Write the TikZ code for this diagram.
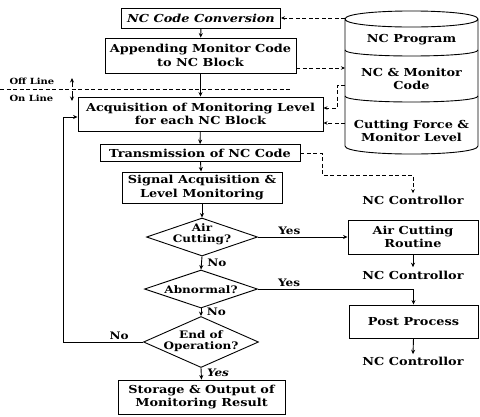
\documentclass[tikz,border=0pt]{standalone}
\usepackage{fontspec}
\setmainfont[FakeStretch=1.17]{DejaVu Serif}
\usetikzlibrary{arrows.meta,shapes.geometric,calc}
\begin{document}
\begin{tikzpicture}[x=1pt,y=-1pt,
  txt/.style={font=\bfseries\fontsize{11}{13.5}\selectfont,align=center},
  small/.style={font=\bfseries\fontsize{10.3}{11}\selectfont,align=center},
  tiny/.style={font=\bfseries\fontsize{8.5}{10}\selectfont},
  box/.style={draw,line width=0.9pt,txt,inner sep=0pt},
  dia/.style={draw,line width=0.9pt,diamond,inner sep=0pt},
  arr/.style={line width=0.9pt,-{Stealth[length=4.5pt,width=4pt]}},
  dsh/.style={line width=0.8pt,dash pattern=on 4pt off 2.5pt,-{Stealth[length=4pt,width=3.5pt]}},
  dshn/.style={line width=0.8pt,dash pattern=on 4pt off 2.5pt}]
\useasboundingbox (0,0) rectangle (480,416);

% main boxes
\node[box,minimum width=159,minimum height=20] (conv) at (201,18) {\itshape NC Code Conversion};
\node[box,minimum width=191,minimum height=35] (app) at (200.5,55.5) {Appending Monitor Code\\to NC Block};
\node[box,minimum width=245,minimum height=34] (acq) at (200.5,114) {Acquisition of Monitoring Level\\for each NC Block};
\node[box,minimum width=200,minimum height=17] (trans) at (200,153) {Transmission of NC Code};
\node[box,minimum width=160,minimum height=31] (sig) at (202,187.5) {Signal Acquisition \&\\Level Monitoring};
\node[dia,minimum width=111,minimum height=38] (d1) at (202,237) {};
\node[small] (d1t) at (202,234) {Air\\Cutting?};
\node[dia,minimum width=113,minimum height=38] (d2) at (201,289) {};
\node[small] (d2t) at (201,290) {Abnormal?};
\node[dia,minimum width=115,minimum height=51] (d3) at (201,342) {};
\node[small] (d3t) at (201,341) {End of\\Operation?};
\node[box,minimum width=167,minimum height=34] (stor) at (201.5,397) {Storage \& Output of\\Monitoring Result};
\node[box,minimum width=130,minimum height=34] (air) at (413,237) {Air Cutting\\Routine};
\node[box,minimum width=129,minimum height=33] (post) at (413.5,321.5) {Post Process};
\node[txt] (nc1) at (413,200) {NC Controllor};
\node[txt] (nc2) at (413,275) {NC Controllor};
\node[txt] (nc3) at (413,361) {NC Controllor};

% off line / on line
\node[tiny,anchor=west] (off) at (6,81) {Off Line};
\node[tiny,anchor=west] (on) at (6,98) {On Line};
\coordinate (dl0) at (0,89);
\coordinate (dl1) at (290,89);
\draw[dshn] (dl0) -- (dl1);
\coordinate (oa) at (72,87);
\coordinate (ob) at (72,78);
\coordinate (oc) at (72,91);
\coordinate (od) at (72,101);
\draw[arr] (oa) -- (ob);
\draw[arr] (oc) -- (od);

% main flow
\draw[arr] (conv) -- (app);
\draw[arr] (app) -- (acq);
\draw[arr] (acq) -- (trans);
\draw[arr] (trans) -- (sig);
\draw[arr] (sig) -- (d1.north);
\draw[arr] (d1.south) -- node[small,right=2pt,pos=0.45] (no1) {No} (d2.north);
\draw[arr] (d2.south) -- node[small,right=2pt,pos=0.45] (no2) {No} (d3.north);
\draw[arr] (d3.south) -- node[small,right=2pt,pos=0.45] (yes3) {\itshape Yes} (stor.north);
\draw[arr] (d1.east) -- node[small,above=-1pt,pos=0.35] (yes1) {Yes} (air.west);
\draw[arr] (d2.east) -- node[small,above=-1pt,pos=0.2] (yes2) {Yes} (post.north |- d2.east) -- (post.north);
\draw[arr] (d3.west) -- node[small,above=-1pt,pos=0.3] (no3) {No} (63,342) |- ($(acq.west)+(0,3)$);
\draw[arr] (air.south) -- (nc2.north);
\draw[arr] (post.south) -- ($(nc3.north)+(0,1)$);

% cylinder
\draw[line width=0.9pt] (345,19) .. controls (345,8.3) and (478,8.3) .. (478,19)
   .. controls (478,29.7) and (345,29.7) .. (345,19) -- (345,146)
   .. controls (345,156.7) and (478,156.7) .. (478,146) -- (478,19);
\draw[line width=0.9pt] (345,50) .. controls (345,58) and (478,58) .. (478,50);
\draw[line width=0.9pt] (345,96) .. controls (345,104) and (478,104) .. (478,96);
\node[txt] (cy1) at (411.5,40) {NC Program};
\node[txt] (cy2) at (411.5,79) {NC \& Monitor\\Code};
\node[txt] (cy3) at (411.5,131) {Cutting Force \&\\Monitor Level};

% dashed data links
\coordinate (cA) at (345,18);
\coordinate (cB) at (345,68);
\coordinate (cC) at (345,85);
\coordinate (cD) at (345,123);
\draw[dsh] (cA) -- (conv.east);
\draw[dsh] ($(app.east)+(0,12.5)$) -- (cB);
\draw[dsh] (cC) -- (337,85) -- (337,108) -- ($(acq.east)+(0,-6)$);
\draw[dsh] (cD) -- ($(acq.east)+(0,9)$);
\draw[dsh] (trans.east) -- (322,153) -- (322,175) -- (413,175) -- ($(nc1.north)+(0,1)$);
\end{tikzpicture}
\end{document}
